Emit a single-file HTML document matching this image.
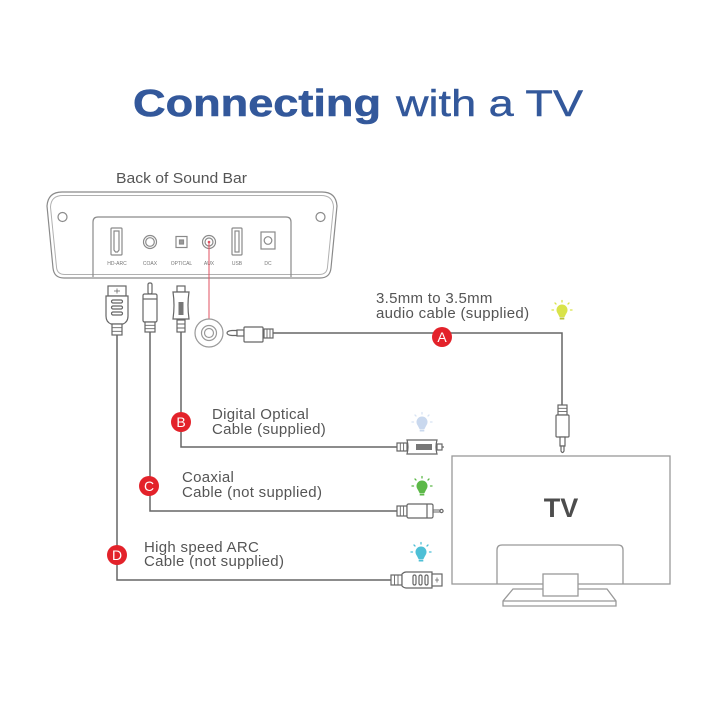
<!DOCTYPE html>
<html><head><meta charset="utf-8"><style>
html,body{margin:0;padding:0;background:#fff;}
svg{display:block;}
text{font-family:"Liberation Sans",Arial,sans-serif;}
</style></head><body>
<svg width="720" height="720" viewBox="0 0 720 720" xmlns="http://www.w3.org/2000/svg">
<rect width="720" height="720" fill="#fff"/>

<!-- Title -->
<text x="133" y="116" font-size="38" font-weight="bold" fill="#33589b" stroke="#33589b" stroke-width="0.6" textLength="248" lengthAdjust="spacingAndGlyphs">Connecting</text>
<text x="396" y="116" font-size="37" fill="#33589b" stroke="#33589b" stroke-width="0.4" textLength="187" lengthAdjust="spacingAndGlyphs">with a TV</text>

<!-- Back of Sound Bar -->
<text x="116" y="183" font-size="15" fill="#555" textLength="131" lengthAdjust="spacingAndGlyphs">Back of Sound Bar</text>

<g fill="none" stroke="#8a8a8a" stroke-width="1.2">
  <path d="M62 192 L322 192 Q336 192 337 206 L331 268 Q330 278 320 278 L64 278 Q54 278 53 268 L47 206 Q48 192 62 192 Z"/>
  <path d="M63 195.5 L321 195.5 Q333 195.5 333.5 207 L327.5 267 Q327 274.5 319 274.5 L65 274.5 Q57 274.5 56.5 267 L50.5 207 Q51 195.5 63 195.5 Z" stroke="#b0b0b0" stroke-width="1"/>
  <path d="M93 277 L93 222 Q93 217 98 217 L286 217 Q291 217 291 222 L291 277"/>
  <circle cx="62.5" cy="217" r="4.5"/>
  <circle cx="320.5" cy="217" r="4.5"/>
  <!-- HDMI port -->
  <rect x="111" y="228" width="11" height="27" rx="1"/>
  <path d="M114 231 H119 V250 L117.5 252 H115.5 L114 250 Z"/>
  <!-- COAX -->
  <circle cx="150" cy="242" r="6.5"/>
  <circle cx="150" cy="242" r="4.3"/>
  <!-- OPTICAL -->
  <rect x="176" y="236.5" width="11" height="11"/>
  <rect x="179.5" y="240" width="4" height="4" fill="#999"/>
  <!-- AUX -->
  <circle cx="209" cy="242" r="6.5"/>
  <circle cx="209" cy="242" r="4"/>
  <!-- USB -->
  <rect x="232" y="228" width="10" height="27" rx="1"/>
  <rect x="235" y="231" width="4" height="21"/>
  <!-- DC -->
  <rect x="261" y="232" width="14" height="17"/>
  <circle cx="268" cy="240.5" r="3.8"/>
</g>
<g font-size="5" fill="#777" text-anchor="middle">
  <text x="117" y="265">HD-ARC</text>
  <text x="150" y="265">COAX</text>
  <text x="181.5" y="265">OPTICAL</text>
  <text x="209" y="265">AUX</text>
  <text x="237" y="265">USB</text>
  <text x="268" y="265">DC</text>
</g>

<!-- red line from AUX -->
<line x1="209" y1="243" x2="209" y2="319" stroke="#e05060" stroke-width="1"/>
<circle cx="209" cy="242" r="1.3" fill="#e05060"/>

<!-- AUX jack circle -->
<g fill="none" stroke="#999" stroke-width="1.2">
  <circle cx="209" cy="333" r="14"/>
  <circle cx="209" cy="333" r="7.5"/>
  <circle cx="209" cy="333" r="4.5"/>
</g>

<!-- cables -->
<g fill="none" stroke="#666" stroke-width="1.5">
  <path d="M117 335 V580 H391"/>
  <path d="M150 332 V511 H397"/>
  <path d="M181 332 V447 H397"/>
  <path d="M273 333 H562 V405"/>
</g>

<!-- top plugs -->
<g fill="#fff" stroke="#666" stroke-width="1.2">
  <!-- HDMI top -->
  <rect x="108" y="286" width="18" height="10"/>
  <path d="M114 291 H120 M117 288.5 V293.5" stroke-width="0.8"/>
  <path d="M106 296 H128 V316 Q128 322 123 324 H111 Q106 322 106 316 Z"/>
  <rect x="111.5" y="300" width="11" height="3" rx="1.5"/>
  <rect x="111.5" y="306" width="11" height="3" rx="1.5"/>
  <rect x="111.5" y="312" width="11" height="3" rx="1.5"/>
  <rect x="112" y="324" width="10" height="11"/>
  <path d="M112 327.7 H122 M112 331.3 H122" stroke-width="0.9"/>
  <!-- coax top -->
  <rect x="148" y="283" width="4" height="11" rx="1.5"/>
  <rect x="143" y="294" width="14" height="28" rx="1.5"/>
  <line x1="143" y1="299" x2="157" y2="299"/>
  <rect x="145" y="322" width="10" height="10"/>
  <path d="M145 325.3 H155 M145 328.7 H155" stroke-width="0.9"/>
  <!-- optical top -->
  <rect x="177" y="286" width="8" height="6"/>
  <path d="M173 292 H189 Q187 305 189 319 H173 Q175 305 173 292 Z"/>
  <rect x="178.5" y="302" width="5" height="13" fill="#777" stroke="none"/>
  <rect x="177" y="320" width="8" height="12"/>
  <path d="M177 324 H185 M177 328 H185" stroke-width="0.9"/>
  <!-- horizontal 3.5mm near AUX -->
  <path d="M237 330.5 H232 Q227 331 227 333 Q227 335 232 335.5 H237 Z"/>
  <rect x="237" y="330" width="7" height="6"/>
  <rect x="244" y="327" width="19" height="15" rx="1"/>
  <rect x="264" y="329" width="9" height="9"/>
  <path d="M267 329 V338 M270 329 V338" stroke-width="0.9"/>
  <!-- vertical 3.5mm near TV -->
  <rect x="558" y="405" width="9" height="10"/>
  <path d="M558 408.3 H567 M558 411.6 H567" stroke-width="0.9"/>
  <rect x="556" y="415" width="13" height="22" rx="1"/>
  <rect x="560" y="437" width="5" height="9"/>
  <path d="M561 446 H564 V451 Q562.5 454 561 451 Z"/>
</g>

<!-- right-end plugs -->
<g fill="#fff" stroke="#666" stroke-width="1.2">
  <!-- optical B -->
  <rect x="397" y="443" width="10" height="8"/>
  <path d="M400.3 443 V451 M403.6 443 V451" stroke-width="0.9"/>
  <path d="M407 440 H437 Q435 447 437 454 H407 Q409 447 407 440 Z"/>
  <rect x="416" y="444" width="16" height="6" fill="#777" stroke="none"/>
  <rect x="437" y="444" width="5" height="6"/>
  <line x1="442" y1="447" x2="444" y2="447"/>
  <!-- coax C -->
  <rect x="397" y="506" width="10" height="10"/>
  <path d="M400.3 506 V516 M403.6 506 V516" stroke-width="0.9"/>
  <rect x="407" y="504" width="26" height="14" rx="1.5"/>
  <line x1="427" y1="504" x2="427" y2="518"/>
  <path d="M433 510 H440 M433 512 H440" stroke-width="0.9"/>
  <circle cx="441.5" cy="511" r="1.6"/>
  <!-- HDMI D -->
  <rect x="391" y="575" width="11" height="10"/>
  <path d="M394.5 575 V585 M398 575 V585" stroke-width="0.9"/>
  <path d="M402 574 Q404 572 406 572 H432 V588 H406 Q404 588 402 586 Z"/>
  <rect x="413" y="575" width="3" height="10" rx="1.5"/>
  <rect x="419" y="575" width="3" height="10" rx="1.5"/>
  <rect x="425" y="575" width="3" height="10" rx="1.5"/>
  <rect x="432" y="574" width="10" height="12"/>
  <path d="M435 580 H439 M437 577.5 V582.5" stroke-width="0.8"/>
</g>

<!-- bulbs -->
<g id="bulbs">
  <g transform="translate(562,312)" fill="#d9e34a" stroke="#d9e34a">
    <circle cx="0" cy="-2" r="5.5" stroke="none"/>
    <path d="M-4.5 1 L4.5 1 L2.5 5 L-2.5 5 Z" stroke="none"/>
    <rect x="-2.3" y="5.5" width="4.6" height="2" stroke="none" fill="#b8c23a"/>
    <g stroke-width="1.3" stroke-linecap="round">
      <line x1="0" y1="-10" x2="0" y2="-11.5"/>
      <line x1="-6" y1="-8" x2="-7" y2="-9"/>
      <line x1="6" y1="-8" x2="7" y2="-9"/>
      <line x1="-8.5" y1="-2" x2="-10" y2="-2"/>
      <line x1="8.5" y1="-2" x2="10" y2="-2"/>
    </g>
  </g>
  <g transform="translate(422,424)" fill="#c9d8ee" stroke="#d8e3f3">
    <circle cx="0" cy="-2" r="5.5" stroke="none"/>
    <path d="M-4.5 1 L4.5 1 L2.5 5 L-2.5 5 Z" stroke="none"/>
    <rect x="-2.3" y="5.5" width="4.6" height="2" stroke="none"/>
    <g stroke-width="1.3" stroke-linecap="round">
      <line x1="0" y1="-10" x2="0" y2="-11.5"/>
      <line x1="-6" y1="-8" x2="-7" y2="-9"/>
      <line x1="6" y1="-8" x2="7" y2="-9"/>
      <line x1="-8.5" y1="-2" x2="-10" y2="-2"/>
      <line x1="8.5" y1="-2" x2="10" y2="-2"/>
    </g>
  </g>
  <g transform="translate(422,488)" fill="#5cb848" stroke="#5cb848">
    <circle cx="0" cy="-2" r="5.5" stroke="none"/>
    <path d="M-4.5 1 L4.5 1 L2.5 5 L-2.5 5 Z" stroke="none"/>
    <rect x="-2.3" y="5.5" width="4.6" height="2" stroke="none"/>
    <g stroke-width="1.3" stroke-linecap="round">
      <line x1="0" y1="-10" x2="0" y2="-11.5"/>
      <line x1="-6" y1="-8" x2="-7" y2="-9"/>
      <line x1="6" y1="-8" x2="7" y2="-9"/>
      <line x1="-8.5" y1="-2" x2="-10" y2="-2"/>
      <line x1="8.5" y1="-2" x2="10" y2="-2"/>
    </g>
  </g>
  <g transform="translate(421,554)" fill="#4dbfd6" stroke="#4dbfd6">
    <circle cx="0" cy="-2" r="5.5" stroke="none"/>
    <path d="M-4.5 1 L4.5 1 L2.5 5 L-2.5 5 Z" stroke="none"/>
    <rect x="-2.3" y="5.5" width="4.6" height="2" stroke="none"/>
    <g stroke-width="1.3" stroke-linecap="round">
      <line x1="0" y1="-10" x2="0" y2="-11.5"/>
      <line x1="-6" y1="-8" x2="-7" y2="-9"/>
      <line x1="6" y1="-8" x2="7" y2="-9"/>
      <line x1="-8.5" y1="-2" x2="-10" y2="-2"/>
      <line x1="8.5" y1="-2" x2="10" y2="-2"/>
    </g>
  </g>
</g>

<!-- labels -->
<g font-size="15" fill="#555" letter-spacing="0.3">
  <text x="376" y="303">3.5mm to 3.5mm</text>
  <text x="376" y="318">audio cable (supplied)</text>
  <text x="212" y="419">Digital Optical</text>
  <text x="212" y="434">Cable (supplied)</text>
  <text x="182" y="482">Coaxial</text>
  <text x="182" y="497">Cable (not supplied)</text>
  <text x="144" y="552">High speed ARC</text>
  <text x="144" y="566">Cable (not supplied)</text>
</g>

<!-- badges -->
<g>
  <circle cx="442" cy="337" r="10" fill="#e3222a"/>
  <circle cx="181" cy="422" r="10" fill="#e3222a"/>
  <circle cx="149" cy="486" r="10" fill="#e3222a"/>
  <circle cx="117" cy="555" r="10" fill="#e3222a"/>
  <g font-size="14" fill="#fff" text-anchor="middle">
    <text x="442" y="342">A</text>
    <text x="181" y="427">B</text>
    <text x="149" y="491">C</text>
    <text x="117" y="560">D</text>
  </g>
</g>

<!-- TV -->
<g fill="#fff" stroke="#999" stroke-width="1.3">
  <rect x="452" y="456" width="218" height="128"/>
  <path d="M497 584 L497 550 Q497 545 502 545 L618 545 Q623 545 623 550 L623 584" fill="none"/>
  <path d="M513 589 L607 589 L616 601 L616 606 L503 606 L503 601 Z"/>
  <line x1="503" y1="601" x2="616" y2="601"/>
  <rect x="543" y="574" width="35" height="22"/>
</g>
<text x="561" y="517" font-size="27" font-weight="bold" fill="#4d4d4d" text-anchor="middle">TV</text>

</svg>
</body></html>
